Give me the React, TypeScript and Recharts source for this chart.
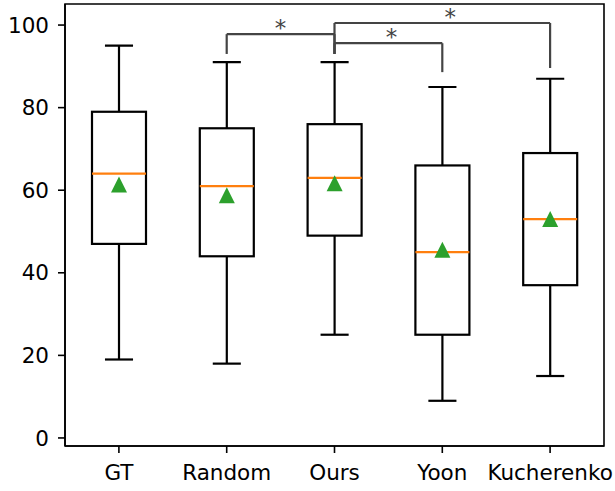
import React from 'react';
import { ComposedChart, Bar, XAxis, YAxis, ReferenceLine, ReferenceArea } from 'recharts';

const categories = ['GT', 'Random', 'Ours', 'Yoon', 'Kucherenko'];
const whiskerLow = [19, 18, 25, 9, 15];
const q1 = [47, 44, 49, 25, 37];
const median = [64, 61, 63, 45, 53];
const q3 = [79, 75, 76, 66, 69];
const whiskerHigh = [95, 91, 91, 85, 87];
const mean = [61.4, 58.8, 61.7, 45.6, 53.0];
const yTicks = [0, 20, 40, 60, 80, 100];
const yDomain = [-1.95, 105.1];

// significance brackets: [from, to, barY, fromLegBottom, toLegBottom, starShift]
const brackets: [string, string, number, number, number, number][] = [
  ['Random', 'Ours', 97.8, 93.0, 93.0, 0],
  ['Ours', 'Kucherenko', 100.5, 93.0, 89.6, 8],
  ['Ours', 'Yoon', 95.6, 93.0, 88.6, 3],
];

const data = categories.map((c, i) => ({
  name: c,
  low: whiskerLow[i],
  q1: q1[i],
  median: median[i],
  q3: q3[i],
  high: whiskerHigh[i],
  mean: mean[i],
}));

const FONT = 'DejaVu Sans, sans-serif';
const BRACKET = '#444444';
const LW = 2.2;

const BoxShape = (props: any) => {
  const { x, y, width, height, payload } = props;
  const top = Math.min(y, y + height);
  const bot = Math.max(y, y + height);
  const lo = payload.low;
  const hi = payload.high;
  const pix = (v: number) => bot - ((v - lo) / (hi - lo)) * (bot - top);
  const cx = x + width / 2;
  const capW = width * 0.52;
  const yq1 = pix(payload.q1);
  const yq3 = pix(payload.q3);
  const ym = pix(payload.median);
  const ymean = pix(payload.mean);
  const tri = 8;
  return (
    <g>
      <line x1={cx} x2={cx} y1={pix(hi)} y2={yq3} stroke="#000" strokeWidth={LW} />
      <line x1={cx} x2={cx} y1={yq1} y2={pix(lo)} stroke="#000" strokeWidth={LW} />
      <line x1={cx - capW / 2} x2={cx + capW / 2} y1={pix(hi)} y2={pix(hi)} stroke="#000" strokeWidth={LW} />
      <line x1={cx - capW / 2} x2={cx + capW / 2} y1={pix(lo)} y2={pix(lo)} stroke="#000" strokeWidth={LW} />
      <rect x={x} y={yq3} width={width} height={yq1 - yq3} fill="none" stroke="#000" strokeWidth={LW} />
      <line x1={x} x2={x + width} y1={ym} y2={ym} stroke="#ff7f0e" strokeWidth={LW} />
      <polygon
        points={`${cx},${ymean - tri} ${cx - tri},${ymean + tri} ${cx + tri},${ymean + tri}`}
        fill="#2ca02c"
      />
    </g>
  );
};

const starLabel = (shift: number) => (props: any) => {
  const vb = props.viewBox || {};
  return (
    <text
      x={vb.x + vb.width / 2 + shift}
      y={vb.y + 2}
      textAnchor="middle"
      fontSize={23}
      fontFamily={FONT}
      fill={BRACKET}
    >
      *
    </text>
  );
};

export default function App() {
  return (
    <div style={{ position: 'absolute', left: 0, top: 0 }}>
      <ComposedChart
        width={615}
        height={491}
        data={data}
        margin={{ top: 4, right: 11, left: 0, bottom: 0 }}
      >
        <XAxis
          dataKey="name"
          type="category"
          height={45}
          tickSize={7}
          tickMargin={12}
          interval={0}
          axisLine={{ stroke: '#000', strokeWidth: 1.6 }}
          tickLine={{ stroke: '#000', strokeWidth: 1.6 }}
          tick={{ fill: '#000', fontSize: 21.5, fontFamily: FONT }}
        />
        <YAxis
          type="number"
          domain={yDomain}
          ticks={yTicks}
          allowDataOverflow
          width={65}
          tickSize={7}
          tickMargin={9}
          axisLine={{ stroke: '#000', strokeWidth: 1.6 }}
          tickLine={{ stroke: '#000', strokeWidth: 1.6 }}
          tick={{ fill: '#000', fontSize: 21.5, fontFamily: FONT }}
        />
        <ReferenceArea
          x1="GT"
          x2="Kucherenko"
          y1={yDomain[0]}
          y2={yDomain[1]}
          fill="none"
          fillOpacity={0}
          stroke="#000"
          strokeWidth={1.6}
        />
        <Bar
          dataKey={(d: any) => [d.low, d.high]}
          barSize={54}
          shape={BoxShape}
          isAnimationActive={false}
        />
        {brackets.map(([a, b, yb, la, lb, s], i) => (
          <React.Fragment key={i}>
            <ReferenceLine
              segment={[{ x: a, y: yb }, { x: b, y: yb }]}
              stroke={BRACKET}
              strokeWidth={2.2}
              label={starLabel(s)}
            />
            <ReferenceLine
              segment={[{ x: a, y: yb }, { x: a, y: la }]}
              stroke={BRACKET}
              strokeWidth={2.2}
            />
            <ReferenceLine
              segment={[{ x: b, y: yb }, { x: b, y: lb }]}
              stroke={BRACKET}
              strokeWidth={2.2}
            />
          </React.Fragment>
        ))}
      </ComposedChart>
    </div>
  );
}
